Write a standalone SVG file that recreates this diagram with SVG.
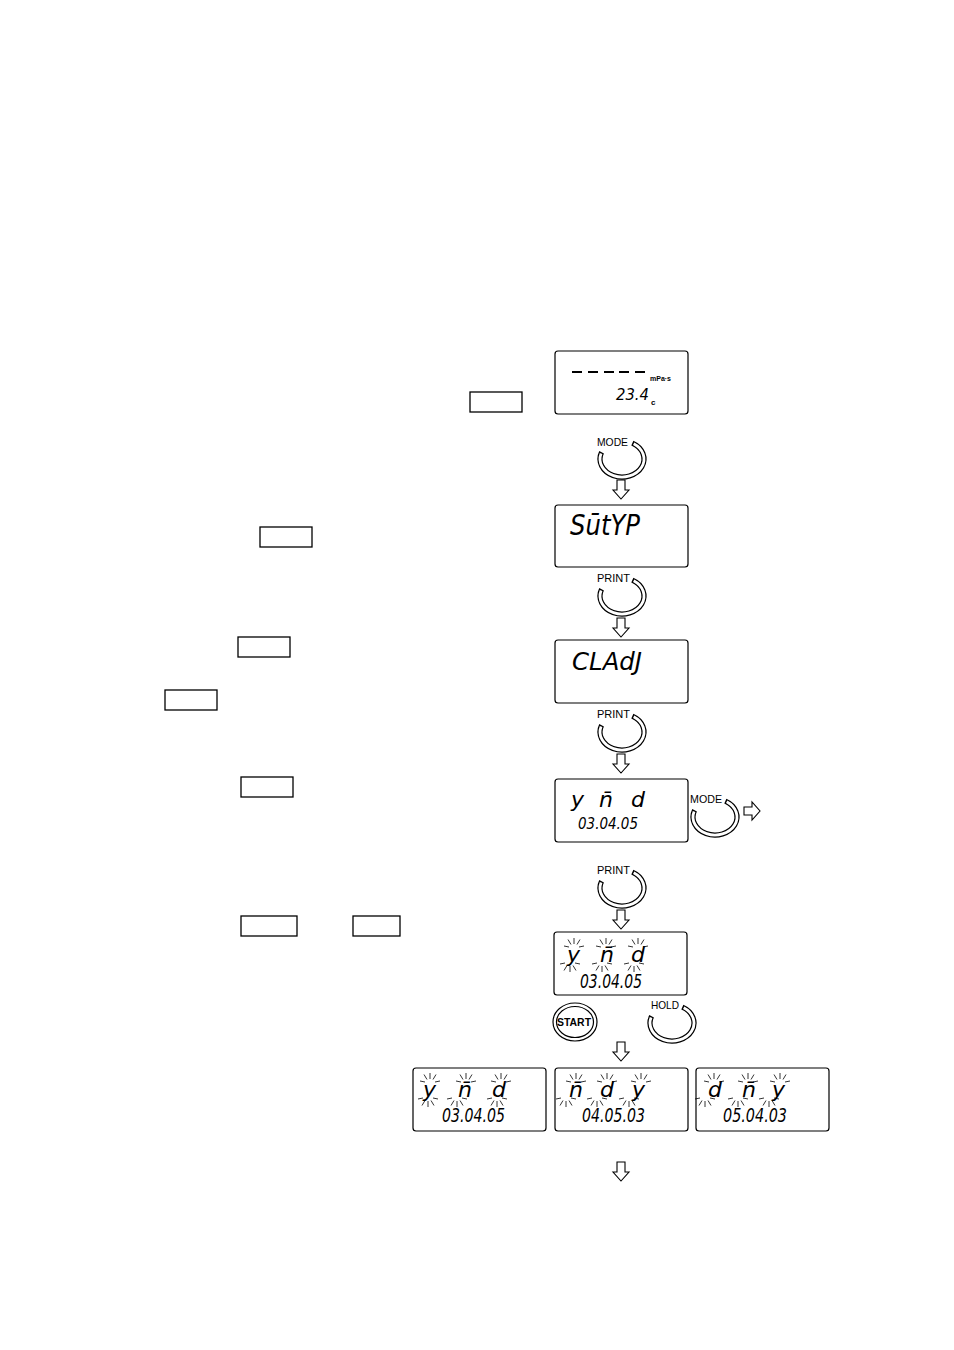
<svg xmlns="http://www.w3.org/2000/svg" width="954" height="1350" viewBox="0 0 954 1350">
<style>
.lcd{fill:#fff;stroke:#000;stroke-width:1.2}
.key{fill:none;stroke:#000;stroke-width:1.3}
.seg{font-family:"DejaVu Sans",sans-serif;font-style:oblique;font-weight:200;fill:#000}
.lbl{font-family:"Liberation Sans",Arial,sans-serif;font-size:11px;fill:#000}
.arr{fill:#fff;stroke:#000;stroke-width:1.1}
.ray{stroke:#000;stroke-width:0.8;fill:none}
.dash{stroke:#000;stroke-width:2.2}
</style>
<defs>
<path id="ringO" d="M 10.33 -15.89 A 22 18 0 1 1 -20.40 -6.74" fill="none" stroke="#000" stroke-width="5.2"/>
<path id="ringI" d="M 11.66 -15.26 A 22 18 0 1 1 -20.92 -5.56" fill="none" stroke="#fff" stroke-width="2.8"/>
<g id="ring"><use href="#ringO"/><use href="#ringI"/></g>
<path id="adown" class="arr" d="M-4,0H4V10H8L0,19L-8,10H-4Z"/>
<path id="up" class="ray" d="M0,-4V-10M3,-3.5L6,-8.5M-3,-3.5L-6,-8.5M5,-1L10,-2M-5,-1L-10,-2"/>
<path id="dn" class="ray" d="M0,4V10M3,3.5L6,8.5M-3,3.5L-6,8.5M5,1L10,2M-5,1L-10,2"/>
</defs>
<rect width="954" height="1350" fill="#fff"/>

<g id="key1"><rect class="key" x="470" y="392" width="52" height="20"/></g>
<g id="key2"><rect class="key" x="260" y="527" width="52" height="20"/></g>
<g id="key3"><rect class="key" x="238" y="637" width="52" height="20"/></g>
<g id="key4"><rect class="key" x="165" y="690" width="52" height="20"/></g>
<g id="key5"><rect class="key" x="241" y="777" width="52" height="20"/></g>
<g id="key6"><rect class="key" x="241" y="916" width="56" height="20"/></g>
<g id="key7"><rect class="key" x="353" y="916" width="47" height="20"/></g>

<g id="disp1">
<rect class="lcd" x="555" y="351" width="133" height="63" rx="3"/>
<path class="dash" d="M572,372H582M588,372H598M604,372H614M619,372H629M635,372H645"/>
<text x="650" y="381" font-family="Liberation Sans, Arial, sans-serif" font-size="7" font-weight="bold">mPa·s</text>
<text class="seg" x="616" y="400" font-size="16" textLength="33" lengthAdjust="spacingAndGlyphs">23.4</text>
<text x="651" y="405" font-family="Liberation Sans, Arial, sans-serif" font-size="8" font-weight="bold">c</text>
</g>

<g id="btn-mode1"><use href="#ring" x="622" y="459"/><text class="lbl" x="597" y="446" textLength="31" lengthAdjust="spacingAndGlyphs">MODE</text></g>

<g id="disp2">
<rect class="lcd" x="555" y="505" width="133" height="62" rx="3"/>
<text class="seg" x="570" y="535" font-size="28" textLength="70" lengthAdjust="spacingAndGlyphs">SūtYP</text>
</g>

<g id="btn-print1"><use href="#ring" x="622" y="596"/><text class="lbl" x="597" y="582" textLength="33" lengthAdjust="spacingAndGlyphs">PRINT</text></g>

<g id="disp3">
<rect class="lcd" x="555" y="640" width="133" height="63" rx="3"/>
<text class="seg" x="572" y="670" font-size="25" textLength="70" lengthAdjust="spacingAndGlyphs">CLAdJ</text>
</g>

<g id="btn-print2"><use href="#ring" x="622" y="732"/><text class="lbl" x="597" y="718" textLength="33" lengthAdjust="spacingAndGlyphs">PRINT</text></g>

<g id="disp4">
<rect class="lcd" x="555" y="779" width="133" height="63" rx="3"/>
<text class="seg" font-size="22" y="807"><tspan x="571">y</tspan><tspan x="599">n̄</tspan><tspan x="631">d</tspan></text>
<text class="seg" x="578" y="829" font-size="16" textLength="60" lengthAdjust="spacingAndGlyphs">03.04.05</text>
</g>

<g id="btn-mode2"><use href="#ring" x="715" y="817"/><text class="lbl" x="690" y="803" textLength="32" lengthAdjust="spacingAndGlyphs">MODE</text></g>

<g id="btn-print3"><use href="#ring" x="622" y="888"/><text class="lbl" x="597" y="874" textLength="33" lengthAdjust="spacingAndGlyphs">PRINT</text></g>

<g id="disp5">
<rect class="lcd" x="554" y="932" width="133" height="63" rx="3"/>
<text class="seg" font-size="22" y="962"><tspan x="567">y</tspan><tspan x="600">n̄</tspan><tspan x="631">d</tspan></text>
<text class="seg" x="580" y="988" font-size="19" textLength="62" lengthAdjust="spacingAndGlyphs">03.04.05</text>
<use href="#up" x="574" y="948"/><use href="#up" x="606" y="948"/><use href="#up" x="638" y="948"/>
<use href="#dn" x="570" y="962"/><use href="#dn" x="602" y="962"/><use href="#dn" x="634" y="962"/>
</g>

<g id="btn-start">
<ellipse cx="575" cy="1022" rx="22" ry="19" fill="none" stroke="#000" stroke-width="1.2"/>
<ellipse cx="575" cy="1022" rx="18.5" ry="15.5" fill="none" stroke="#000" stroke-width="1.2"/>
<text x="574" y="1026" text-anchor="middle" font-family="Liberation Sans, Arial, sans-serif" font-size="10.5" font-weight="bold" textLength="34" lengthAdjust="spacingAndGlyphs">START</text>
</g>

<g id="btn-hold"><use href="#ring" x="672" y="1023"/><text class="lbl" x="651" y="1009" textLength="28" lengthAdjust="spacingAndGlyphs">HOLD</text></g>

<g id="disp-ymd">
<rect class="lcd" x="413" y="1068" width="133" height="63" rx="3"/>
<text class="seg" font-size="22" y="1097"><tspan x="423">y</tspan><tspan x="458">n̄</tspan><tspan x="492">d</tspan></text>
<text class="seg" x="442" y="1122" font-size="19" textLength="63" lengthAdjust="spacingAndGlyphs">03.04.05</text>
<use href="#up" x="430" y="1083"/><use href="#up" x="466" y="1083"/><use href="#up" x="501" y="1083"/>
<use href="#dn" x="428" y="1097"/><use href="#dn" x="457" y="1097"/><use href="#dn" x="497" y="1097"/>
</g>

<g id="disp-mdy">
<rect class="lcd" x="555" y="1068" width="133" height="63" rx="3"/>
<text class="seg" font-size="22" y="1097"><tspan x="569">n̄</tspan><tspan x="600">d</tspan><tspan x="632">y</tspan></text>
<text class="seg" x="582" y="1122" font-size="19" textLength="63" lengthAdjust="spacingAndGlyphs">04.05.03</text>
<use href="#up" x="576" y="1083"/><use href="#up" x="607" y="1083"/><use href="#up" x="641" y="1083"/>
<use href="#dn" x="566" y="1097"/><use href="#dn" x="597" y="1097"/><use href="#dn" x="629" y="1097"/>
</g>

<g id="disp-dmy">
<rect class="lcd" x="696" y="1068" width="133" height="63" rx="3"/>
<text class="seg" font-size="22" y="1097"><tspan x="708">d</tspan><tspan x="742">n̄</tspan><tspan x="772">y</tspan></text>
<text class="seg" x="723" y="1122" font-size="19" textLength="64" lengthAdjust="spacingAndGlyphs">05.04.03</text>
<use href="#up" x="714" y="1083"/><use href="#up" x="748" y="1083"/><use href="#up" x="780" y="1083"/>
<use href="#dn" x="705" y="1097"/><use href="#dn" x="738" y="1097"/><use href="#dn" x="769" y="1097"/>
</g>

<g id="connectors">
<use href="#adown" x="621" y="480"/>
<use href="#adown" x="621" y="618"/>
<use href="#adown" x="621" y="754"/>
<use href="#adown" x="621" y="910"/>
<use href="#adown" x="621" y="1042"/>
<use href="#adown" x="621" y="1162"/>
<path class="arr" d="M744,807H752V802L760,811L752,820V815H744Z"/>
</g>
</svg>
